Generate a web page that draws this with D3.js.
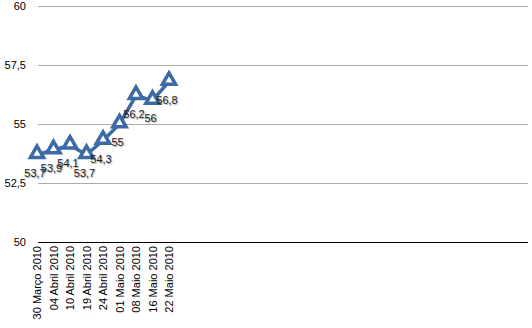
<!DOCTYPE html>
<html>
<head>
<meta charset="utf-8">
<script src="https://cdn.jsdelivr.net/npm/d3@7"></script>
<style>
body { margin: 0; background: #fff; }
text { font-family: "Liberation Sans", Arial, sans-serif; }
</style>
</head>
<body>
<div id="chart"></div>
<script>
var width = 532
var height = 328

var categories = ['30 Março 2010', '04 Abril 2010', '10 Abril 2010', '19 Abril 2010', '24 Abril 2010',
                  '01 Maio 2010', '08 Maio 2010', '16 Maio 2010', '22 Maio 2010']
var values = [53.7, 53.9, 54.1, 53.7, 54.3, 55, 56.2, 56, 56.8]
var yTicks = [50, 52.5, 55, 57.5, 60]

var svg = d3.select("#chart")
            .append('svg')
            .attr("width", width)
            .attr("height", height);

var plotLeft = 38, plotRight = 528, plotTop = 6, plotBottom = 242

var x = d3.scalePoint()
    .domain(categories)
    .range([plotLeft - 1, plotLeft - 1 + 16.5 * (categories.length - 1)])

var y = d3.scaleLinear()
    .domain([50, 60])
    .range([plotBottom, plotTop])

var fmt = function(v) { return String(v).replace('.', ',') }

// gridlines
svg.append('g')
  .selectAll('line')
  .data(yTicks.slice(1))
  .enter().append('line')
    .attr('x1', plotLeft)
    .attr('x2', plotRight)
    .attr('y1', function(d) { return y(d) + 0.5 })
    .attr('y2', function(d) { return y(d) + 0.5 })
    .attr('stroke', '#aaaaaa')
    .attr('stroke-width', 1)

// baseline
svg.append('line')
  .attr('x1', plotLeft)
  .attr('x2', plotRight)
  .attr('y1', plotBottom + 0.5)
  .attr('y2', plotBottom + 0.5)
  .attr('stroke', '#000')
  .attr('stroke-width', 1)

// y axis labels
var yAxis = d3.axisLeft(y).tickValues(yTicks).tickSize(0).tickPadding(0).tickFormat(fmt)
var ya = svg.append('g')
  .attr('transform', 'translate(26,0)')
  .call(yAxis)
ya.select('.domain').remove()
ya.selectAll('text')
  .attr('font-size', 11)
  .attr('fill', '#000')
  .attr('font-family', '"Liberation Sans", Arial, sans-serif')

// x axis labels (rotated)
var xAxis = d3.axisBottom(x).tickSize(0).tickPadding(0)
var xa = svg.append('g')
  .attr('transform', 'translate(0,' + plotBottom + ')')
  .call(xAxis)
xa.select('.domain').remove()
xa.selectAll('text')
  .attr('font-size', 11)
  .attr('fill', '#000')
  .attr('font-family', '"Liberation Sans", Arial, sans-serif')
  .attr('text-anchor', 'end')
  .attr('transform', 'rotate(-90)')
  .attr('x', -4)
  .attr('y', 0)
  .attr('dy', '0.35em')

var blue = '#3d6aa5'

var line = d3.line()
    .x(function(d, i) { return x(categories[i]) })
    .y(function(d) { return y(d) })

svg.append('path')
  .datum(values)
  .attr('d', line)
  .attr('fill', 'none')
  .attr('stroke', blue)
  .attr('stroke-width', 3.5)
  .attr('stroke-linejoin', 'round')

var tri = d3.symbol().type(d3.symbolTriangle).size(75)

svg.append('g')
  .selectAll('path')
  .data(values)
  .enter().append('path')
    .attr('d', tri)
    .attr('transform', function(d, i) { return 'translate(' + x(categories[i]) + ',' + (y(d) - 1) + ')' })
    .attr('fill', '#fff')
    .attr('stroke', blue)
    .attr('stroke-width', 3.5)
    .attr('stroke-linejoin', 'miter')

// value labels
svg.append('g')
  .selectAll('text')
  .data(values)
  .enter().append('text')
    .attr('x', function(d, i) { return x(categories[i]) - 2 })
    .attr('y', function(d) { return y(d) + 22 })
    .attr('text-anchor', 'middle')
    .attr('font-size', 11)
    .attr('fill', '#222')
    .style('text-shadow', '1px 1px 1px rgba(0,0,0,0.35)')
    .text(fmt)
</script>
</body>
</html>
